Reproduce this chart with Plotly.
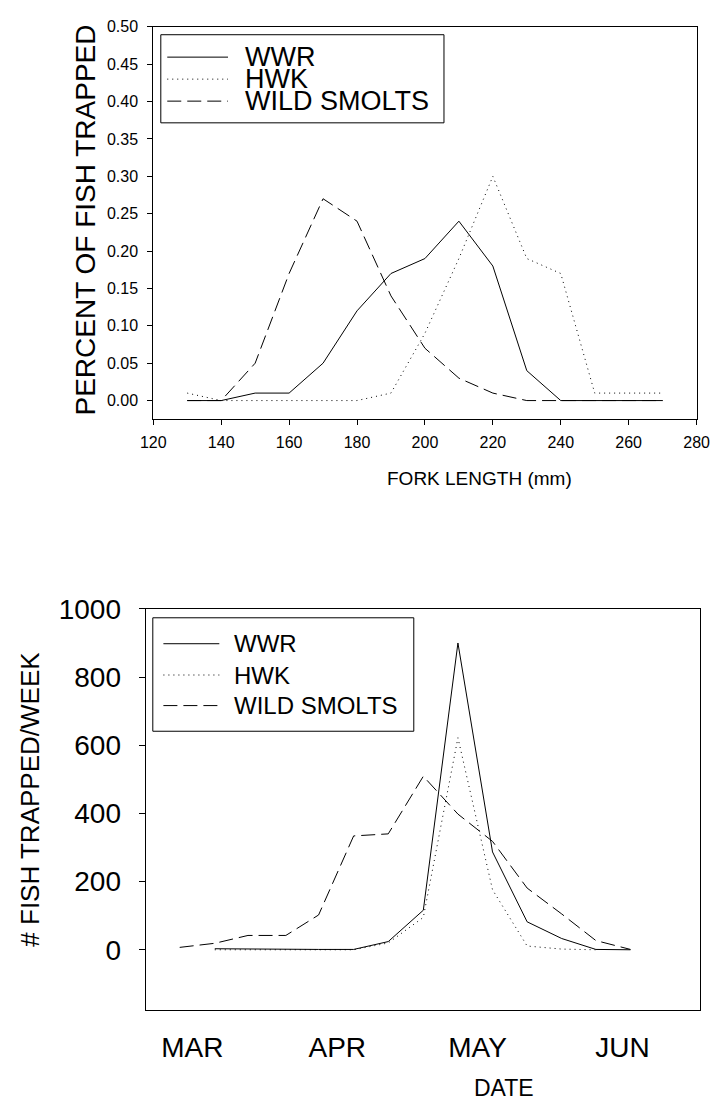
import plotly.graph_objects as go

W, H = 725, 1116
FONT = "Liberation Sans, Arial, sans-serif"

# ---------------- top chart data ----------------
fork_length = [130, 140, 150, 160, 170, 180, 190, 200, 210, 220, 230, 240, 250, 260, 270]
wwr_pct = [0.00, 0.00, 0.01, 0.01, 0.05, 0.12, 0.17, 0.19, 0.24, 0.18, 0.04, 0.00, 0.00, 0.00, 0.00]
hwk_pct = [0.01, 0.00, 0.00, 0.00, 0.00, 0.00, 0.01, 0.09, 0.19, 0.30, 0.19, 0.17, 0.01, 0.01, 0.01]
wild_pct = [0.00, 0.00, 0.05, 0.17, 0.27, 0.24, 0.14, 0.07, 0.03, 0.01, 0.00, 0.00, 0.00, 0.00, 0.00]

# ---------------- bottom chart data (days since 1 March) ----------------
wild_days = [-2.7, 4.8, 11.9, 20.0, 27.0, 34.5, 41.9, 49.4, 56.8, 64.2, 71.6, 79.0, 86.3, 93.7]
wild_week = [7, 19, 42, 42, 102, 334, 340, 509, 398, 318, 181, 105, 27, 1]
wwr_days = [4.8, 11.9, 20.0, 27.0, 34.5, 41.9, 49.4, 56.8, 64.2, 71.6, 79.0, 86.3, 93.7]
wwr_week = [3, 2, 1, 1, 1, 24, 116, 900, 287, 82, 33, 1, 0]
hwk_days = [4.8, 11.9, 20.0, 27.0, 34.5, 41.9, 49.4, 56.8, 64.2, 71.6, 79.0, 86.3]
hwk_week = [0, 0, 0, 0, 0, 20, 95, 622, 176, 11, 2, 0]

month_days = [0, 31, 61, 92]
month_labels = ["MAR", "APR", "MAY", "JUN"]

series_names = ["WWR", "HWK", "WILD SMOLTS"]
DOT = "1px,4px"
DASH = "14px,6px"
dashes = ["solid", DOT, DASH]


def px_x(x):
    return x / W


def px_y(y):
    return 1 - y / H


fig = go.Figure()

top_series = [wwr_pct, hwk_pct, wild_pct]
for name, vals, d in zip(series_names, top_series, dashes):
    fig.add_trace(go.Scatter(x=fork_length, y=vals, mode="lines", name=name,
                             line=dict(color="black", width=1, dash=d),
                             xaxis="x", yaxis="y", showlegend=False))

bottom_series = [(wwr_days, wwr_week), (hwk_days, hwk_week), (wild_days, wild_week)]
for name, (xs, ys), d in zip(series_names, bottom_series, dashes):
    fig.add_trace(go.Scatter(x=xs, y=ys, mode="lines", name=name,
                             line=dict(color="black", width=1, dash=d),
                             xaxis="x2", yaxis="y2", showlegend=False))

axis_common = dict(showline=True, linecolor="black", linewidth=1, mirror=True,
                   showgrid=False, zeroline=False, tickcolor="black", tickwidth=1)

fig.update_layout(
    width=W, height=H,
    margin=dict(l=0, r=0, t=0, b=0),
    paper_bgcolor="white", plot_bgcolor="white",
    font=dict(family=FONT, color="black"),
    showlegend=False,
    xaxis=dict(domain=[px_x(145.5), px_x(709)], anchor="y", range=[120, 280],
               tick0=120, dtick=20, ticks="outside", ticklen=5,
               tickfont=dict(size=16), ticklabelstandoff=4, **axis_common),
    yaxis=dict(domain=[px_y(409), px_y(12)], anchor="x", range=[-0.024, 0.5],
               tick0=0, dtick=0.05, tickformat=".2f", ticks="outside", ticklen=5,
               tickfont=dict(size=16), ticklabelstandoff=6, **axis_common),
    xaxis2=dict(domain=[px_x(137.5), px_x(712.7)], anchor="y2", range=[-10, 108.6],
                tickvals=month_days, ticktext=month_labels, ticks="",
                tickfont=dict(size=28), ticklabelstandoff=12, **axis_common),
    yaxis2=dict(domain=[px_y(1009), px_y(602)], anchor="x2", range=[-178, 1000],
                tick0=0, dtick=200, ticks="outside", ticklen=6,
                tickfont=dict(size=28), ticklabelstandoff=12, **axis_common),
)

shapes = []
annotations = []

# axis titles
annotations.append(dict(text="PERCENT OF FISH TRAPPED", x=px_x(75), y=px_y(208),
                        xref="paper", yref="paper", showarrow=False, textangle=-90,
                        font=dict(size=28), xanchor="center", yanchor="middle"))
annotations.append(dict(text="FORK LENGTH (mm)", x=px_x(484), y=px_y(470),
                        xref="paper", yref="paper", showarrow=False,
                        font=dict(size=19), xanchor="center", yanchor="middle"))
annotations.append(dict(text="# FISH TRAPPED/WEEK", x=px_x(18), y=px_y(795),
                        xref="paper", yref="paper", showarrow=False, textangle=-90,
                        font=dict(size=26), xanchor="center", yanchor="middle"))
annotations.append(dict(text="DATE", x=px_x(509), y=px_y(1088),
                        xref="paper", yref="paper", showarrow=False,
                        font=dict(size=23), xanchor="center", yanchor="middle"))


def legend(box, line_x, text_x, rows_y, size):
    x0, y0, x1, y1 = box
    shapes.append(dict(type="rect", xref="paper", yref="paper",
                       x0=px_x(x0), x1=px_x(x1), y0=px_y(y1), y1=px_y(y0),
                       line=dict(color="black", width=1), fillcolor="white", layer="above"))
    for name, d, yy in zip(series_names, dashes, rows_y):
        shapes.append(dict(type="line", xref="paper", yref="paper",
                           x0=px_x(line_x[0]), x1=px_x(line_x[1]), y0=px_y(yy), y1=px_y(yy),
                           line=dict(color="black", width=1, dash=d), layer="above"))
        annotations.append(dict(text=name, x=px_x(text_x), y=px_y(yy), xref="paper", yref="paper",
                                showarrow=False, xanchor="left", yanchor="middle",
                                font=dict(size=size)))


legend((153.3, 20, 447, 109.3), (160, 223), 239, (42.7, 65, 87.3), 27)
legend((145, 611, 415.7, 726), (156, 214), 227, (637.3, 669, 700), 24)

fig.update_layout(shapes=shapes, annotations=annotations)

fig.write_html("out.html")
